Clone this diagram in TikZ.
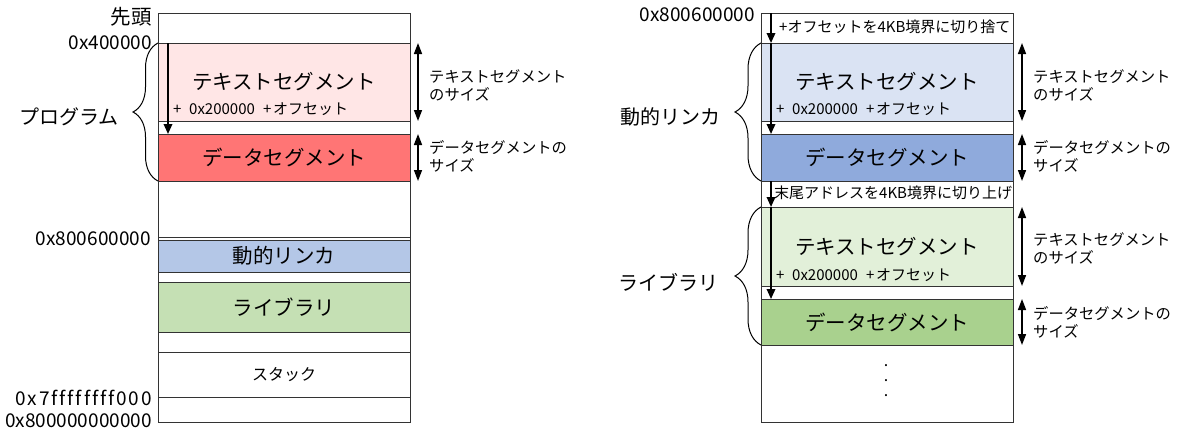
\documentclass[tikz,border=0pt]{standalone}
\usepackage{fontspec}
\setmainfont{Noto Sans CJK JP}
\usetikzlibrary{arrows.meta,decorations.pathreplacing}
\definecolor{lpink}{HTML}{FFE6E6}
\definecolor{lred}{HTML}{FF7575}
\definecolor{lblue}{HTML}{B4C7E7}
\definecolor{lgreen}{HTML}{C5E0B4}
\definecolor{rlblue}{HTML}{DAE3F3}
\definecolor{rblue}{HTML}{8FAADC}
\definecolor{rlgreen}{HTML}{E2F0D9}
\definecolor{rgreen}{HTML}{A9D18E}
\definecolor{edge}{HTML}{333333}
\newcommand\ofstext{\makebox[16pt][l]{+}\makebox[74pt][l]{0x200000}\makebox[10pt][l]{+}オフセット}
\begin{document}
\begin{tikzpicture}[x=1pt,y=-1pt,
  seg/.style={draw=edge, line width=1pt, minimum width=252pt, anchor=north west,
    inner sep=0pt, outer sep=0pt, font=\fontsize{20.5}{23}\selectfont},
  smalltxt/.style={font=\fontsize{15}{17}\selectfont, inner sep=0pt, anchor=west},
  notetxt/.style={font=\fontsize{15}{17}\selectfont, inner sep=0pt, anchor=west},
  addr/.style={font=\fontsize{19}{22}\selectfont, inner sep=0pt, anchor=east},
  grp/.style={font=\fontsize{20}{22}\selectfont, inner sep=0pt, anchor=east},
  sizelbl/.style={font=\fontsize{15.3}{18}\selectfont, inner sep=0pt, anchor=west, align=left},
  colarrow/.style={line width=1.8pt, -{Triangle[width=8.5pt,length=10pt]}},
  sizearrow/.style={line width=1.5pt, {Triangle[width=8pt,length=11pt]}-{Triangle[width=8pt,length=11pt]}},
  bracestyle/.style={line width=1pt, decorate, decoration={brace, amplitude=25pt}},
]
\useasboundingbox (0,0) rectangle (1177,432);

% ---------- left column ----------
\node[seg, minimum height=30pt] (lhead) at (158,13) {};
\node[seg, fill=lpink, minimum height=78pt] (ltext) at (158,43) {テキストセグメント};
\node[smalltxt] (lofs) at (173,109) {\ofstext};
\node[seg, minimum height=13pt] (lgap1) at (158,121) {};
\node[seg, fill=lred, minimum height=47pt] (ldata) at (158,134) {データセグメント};
\node[seg, minimum height=56pt] (lfree) at (158,181) {};
\node[seg, minimum height=3pt] (lgap2) at (158,237) {};
\node[seg, fill=lblue, minimum height=32pt] (llinker) at (158,240) {動的リンカ};
\node[seg, minimum height=10pt] (lgap3) at (158,272) {};
\node[seg, fill=lgreen, minimum height=50pt] (llib) at (158,282) {ライブラリ};
\node[seg, minimum height=20pt] (lgap4) at (158,332) {};
\node[seg, minimum height=45pt, font=\fontsize{16}{18}\selectfont] (lstack) at (158,352) {スタック};
\node[seg, minimum height=25pt] (lend) at (158,397) {};

\node[addr, font=\fontsize{20.5}{22}\selectfont] (lbtop) at (152,17) {先頭};
\node[addr] (lb1) at (152,43) {0x400000};
\node[addr] (lb2) at (151,239) {0x800600000};
\node[addr] (lb3) at (152,398) {\addfontfeature{Ligatures=NoCommon,LetterSpace=10}0x7ffffffff000};
\node[addr] (lb4) at (152,421) {0x800000000000};

\draw[colarrow] ([xshift=10pt]ltext.north west) -- ([xshift=10pt]ldata.north west);

\draw[bracestyle] (ldata.south west) -- (ltext.north west);
\node[grp] (lprog) at (119,117) {プログラム};

\draw[sizearrow] ([xshift=8pt]ltext.north east) -- ([xshift=8pt]ltext.south east);
\draw[sizearrow] ([xshift=8pt]ldata.north east) -- ([xshift=8pt]ldata.south east);
\node[sizelbl] (lts) at ([xshift=19pt,yshift=-3pt]ltext.east) {テキストセグメント\\のサイズ};
\node[sizelbl] (lds) at ([xshift=19pt,yshift=1pt]ldata.east) {データセグメントの\\サイズ};

% ---------- right column ----------
\node[seg, minimum height=30pt] (rtop) at (761,13) {};
\node[notetxt] (rnote1) at (779,27) {+オフセットを4KB境界に切り捨て};
\node[seg, fill=rlblue, minimum height=78pt] (rtext) at (761,43) {テキストセグメント};
\node[smalltxt] (rofs) at (776,109) {\ofstext};
\node[seg, minimum height=13pt] (rgap1) at (761,121) {};
\node[seg, fill=rblue, minimum height=47pt] (rdata) at (761,134) {データセグメント};
\node[seg, minimum height=26pt] (rmid) at (761,181) {};
\node[notetxt] (rnote2) at (774,193) {末尾アドレスを4KB境界に切り上げ};
\node[seg, fill=rlgreen, minimum height=79pt] (rtext2) at (761,207) {テキストセグメント};
\node[smalltxt] (rofs2) at (776,275) {\ofstext};
\node[seg, minimum height=13pt] (rgap2) at (761,286) {};
\node[seg, fill=rgreen, minimum height=46pt] (rdata2) at (761,299) {データセグメント};
\node[seg, minimum height=77pt] (rrest) at (761,345) {};
\node[font=\fontsize{16}{15}\selectfont, align=center, inner sep=0pt] (rdots) at (886,381) {.\\.\\.};

\node[addr] (rb1) at (755,15) {0x800600000};

\draw[colarrow] ([xshift=10pt]rtop.north west) -- ([xshift=10pt]rtext.north west);
\draw[colarrow] ([xshift=10pt]rtext.north west) -- ([xshift=10pt]rdata.north west);
\draw[colarrow] ([xshift=10pt]rmid.north west) -- ([xshift=10pt]rtext2.north west);
\draw[colarrow] ([xshift=10pt]rtext2.north west) -- ([xshift=10pt]rdata2.north west);

\draw[bracestyle, decoration={amplitude=26pt}] (rdata.south west) -- (rtext.north west);
\draw[bracestyle, decoration={amplitude=26pt}] (rdata2.south west) -- (rtext2.north west);
\node[grp] (rlinker) at (721,117) {動的リンカ};
\node[grp] (rlib) at (719,282) {ライブラリ};

\draw[sizearrow] ([xshift=9pt]rtext.north east) -- ([xshift=9pt]rtext.south east);
\draw[sizearrow] ([xshift=9pt]rdata.north east) -- ([xshift=9pt]rdata.south east);
\draw[sizearrow] ([xshift=9pt]rtext2.north east) -- ([xshift=9pt]rtext2.south east);
\draw[sizearrow] ([xshift=9pt]rdata2.north east) -- ([xshift=9pt]rdata2.south east);
\node[sizelbl] (rts) at ([xshift=20pt,yshift=-3pt]rtext.east) {テキストセグメント\\のサイズ};
\node[sizelbl] (rds) at ([xshift=20pt,yshift=1pt]rdata.east) {データセグメントの\\サイズ};
\node[sizelbl] (rts2) at ([xshift=20pt,yshift=-2pt]rtext2.east) {テキストセグメント\\のサイズ};
\node[sizelbl] (rds2) at ([xshift=20pt]rdata2.east) {データセグメントの\\サイズ};
\end{tikzpicture}
\end{document}
